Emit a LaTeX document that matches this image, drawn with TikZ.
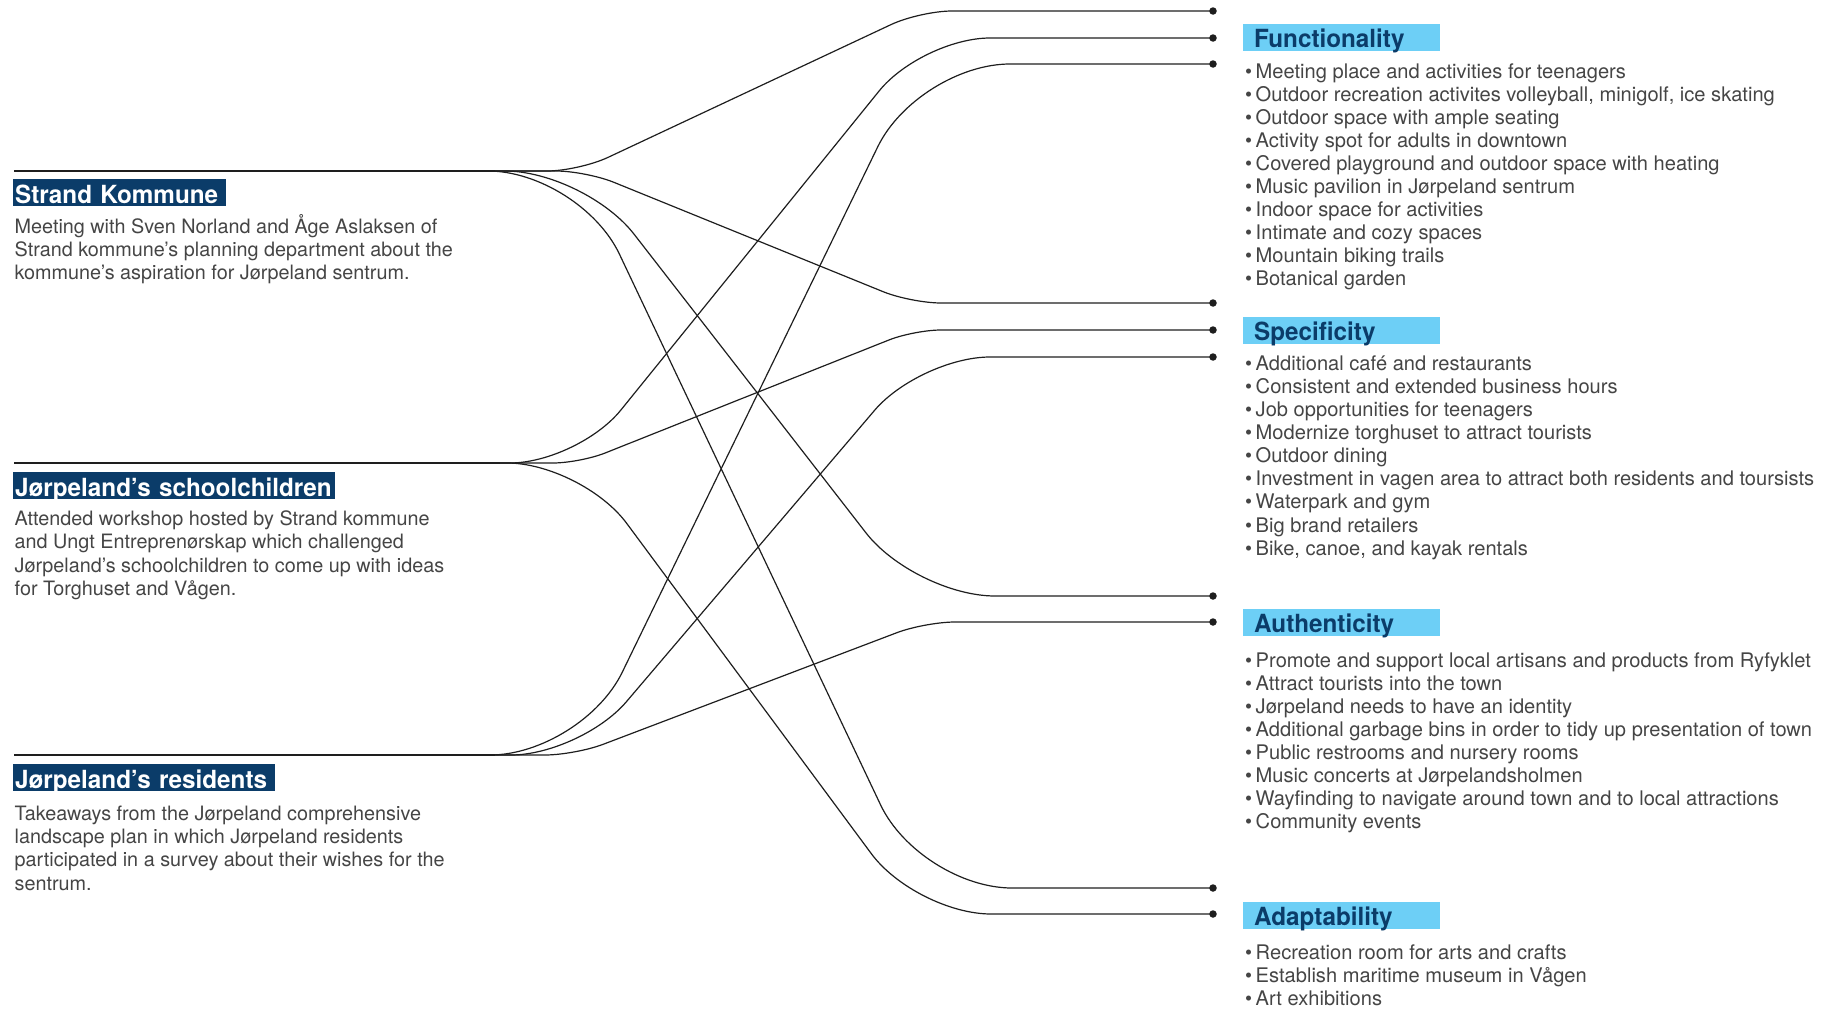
\documentclass[tikz,border=0pt]{standalone}
\usepackage{fontspec}
\setmainfont{TeX Gyre Heros}
\newfontfamily\headfont[FakeStretch=0.97]{TeX Gyre Heros}
\definecolor{navy}{HTML}{0B3C69}
\definecolor{sky}{HTML}{6DCFF6}
\definecolor{bodytext}{HTML}{454545}
\definecolor{wire}{HTML}{1E1E1E}
\begin{document}
\begin{tikzpicture}[x=1pt,y=-1pt,
  conn/.style={draw=wire, line width=1.2pt},
  srcline/.style={draw=wire, line width=1.8pt},
  enddot/.style={circle, fill=wire, inner sep=0pt, minimum size=7.5pt},
  lhead/.style={anchor=north west, fill=navy, text=white, font=\headfont\fontsize{25}{25}\selectfont\bfseries, inner xsep=2pt, inner ysep=0pt, text height=24pt, text depth=3pt, align=left},
  rhead/.style={anchor=north west, fill=sky, text=navy, font=\headfont\fontsize{25}{25}\selectfont\bfseries, inner xsep=11pt, inner ysep=0pt, text width=175pt, text height=23pt, text depth=4pt, align=left},
  desc/.style={anchor=base west, inner sep=0pt, text=bodytext, font=\fontsize{19.8}{23}\selectfont},
  item/.style={anchor=base west, inner sep=0pt, text=bodytext, font=\fontsize{20.1}{23}\selectfont}
]
\useasboundingbox (0,0) rectangle (1834,1009);

% sources
\coordinate (S) at (14,171);
\coordinate (C) at (14,463);
\coordinate (R) at (14,755);
\draw[srcline] (S) -- (495,171);
\draw[srcline] (C) -- (500,463);
\draw[srcline] (R) -- (495,755);

% left headers and descriptions
\node[lhead, text width=209pt] (hS) at (13,179) {\mbox{Strand Kommune}};
\node[lhead, text width=318pt] (hC) at (13,472) {\mbox{Jørpeland’s schoolchildren}};
\node[lhead, text width=258pt] (hR) at (13,764) {\mbox{Jørpeland’s residents}};

\foreach \txt [count=\i from 0] in {Meeting with Sven Norland and Åge Aslaksen of,Strand kommune’s planning department about the,kommune’s aspiration for Jørpeland sentrum.}
  {\node[desc] (dS\i) at (14.5,233+23.3*\i) {\txt};}
\foreach \txt [count=\i from 0] in {Attended workshop hosted by Strand kommune,and Ungt Entreprenørskap which challenged,Jørpeland’s schoolchildren to come up with ideas,for Torghuset and Vågen.}
  {\node[desc] (dC\i) at (14.5,525.5+23.3*\i) {\txt};}
\foreach \txt [count=\i from 0] in {Takeaways from the Jørpeland comprehensive,landscape plan in which Jørpeland residents,participated in a survey about their wishes for the,sentrum.}
  {\node[desc] (dR\i) at (14.5,820.5+23.2*\i) {\txt};}

% end dots
\node[enddot] (d1) at (1213,11) {};
\node[enddot] (d2) at (1213,38) {};
\node[enddot] (d3) at (1213,64) {};
\node[enddot] (d4) at (1213,303) {};
\node[enddot] (d5) at (1213,330) {};
\node[enddot] (d6) at (1213,357) {};
\node[enddot] (d7) at (1213,596) {};
\node[enddot] (d8) at (1213,622) {};
\node[enddot] (d9) at (1213,888) {};
\node[enddot] (d10) at (1213,914) {};

% connectors
\draw[conn, rounded corners=32pt] (S) -- (579,171) -- (920,11) -- (d1.center);
\draw[conn, rounded corners=30pt] (S) -- (586,171) -- (911,303) -- (d4.center);
\draw[conn, rounded corners=80pt] (S) -- (585,171) -- (915,596) -- (d7.center);
\draw[conn, rounded corners=92pt] (S) -- (580,171) -- (920,888) -- (d9.center);
\draw[conn, rounded corners=68pt] (C) -- (578,463) -- (922,38) -- (d2.center);
\draw[conn, rounded corners=27pt] (C) -- (580,463) -- (914,330) -- (d5.center);
\draw[conn, rounded corners=75pt] (C) -- (582,463) -- (916,914) -- (d10.center);
\draw[conn, rounded corners=92pt] (R) -- (582,755) -- (918,64) -- (d3.center);
\draw[conn, rounded corners=70pt] (R) -- (581,755) -- (920,357) -- (d6.center);
\draw[conn, rounded corners=30pt] (R) -- (575,755) -- (925,622) -- (d8.center);

% right headers
\node[rhead] (hF) at (1243,24) {Functionality};
\node[rhead] (hSp) at (1243,317) {Specificity};
\node[rhead] (hA) at (1243,609) {Authenticity};
\node[rhead] (hAd) at (1243,902) {Adaptability};

% items
\foreach \txt [count=\i from 0] in {Meeting place and activities for teenagers,{Outdoor recreation activites volleyball, minigolf, ice skating},Outdoor space with ample seating,Activity spot for adults in downtown,Covered playground and outdoor space with heating,Music pavilion in Jørpeland sentrum,Indoor space for activities,Intimate and cozy spaces,Mountain biking trails,Botanical garden}
  {\node[item] (iF\i) at (1245,78+23.1*\i) {\textbullet\hspace{3.5pt}\txt};}
\foreach \txt [count=\i from 0] in {Additional café and restaurants,Consistent and extended business hours,Job opportunities for teenagers,Modernize torghuset to attract tourists,Outdoor dining,Investment in vagen area to attract both residents and toursists,Waterpark and gym,Big brand retailers,{Bike, canoe, and kayak rentals}}
  {\node[item] (iS\i) at (1245,370.3+23.1*\i) {\textbullet\hspace{3.5pt}\txt};}
\foreach \txt [count=\i from 0] in {Promote and support local artisans and products from Ryfyklet,Attract tourists into the town,Jørpeland needs to have an identity,Additional garbage bins in order to tidy up presentation of town,Public restrooms and nursery rooms,Music concerts at Jørpelandsholmen,Wayfinding to navigate around town and to local attractions,Community events}
  {\node[item] (iA\i) at (1245,667.4+23.05*\i) {\textbullet\hspace{3.5pt}\txt};}
\foreach \txt [count=\i from 0] in {Recreation room for arts and crafts,Establish maritime museum in Vågen,Art exhibitions}
  {\node[item] (iD\i) at (1245,959.8+22.9*\i) {\textbullet\hspace{3.5pt}\txt};}
\end{tikzpicture}
\end{document}
